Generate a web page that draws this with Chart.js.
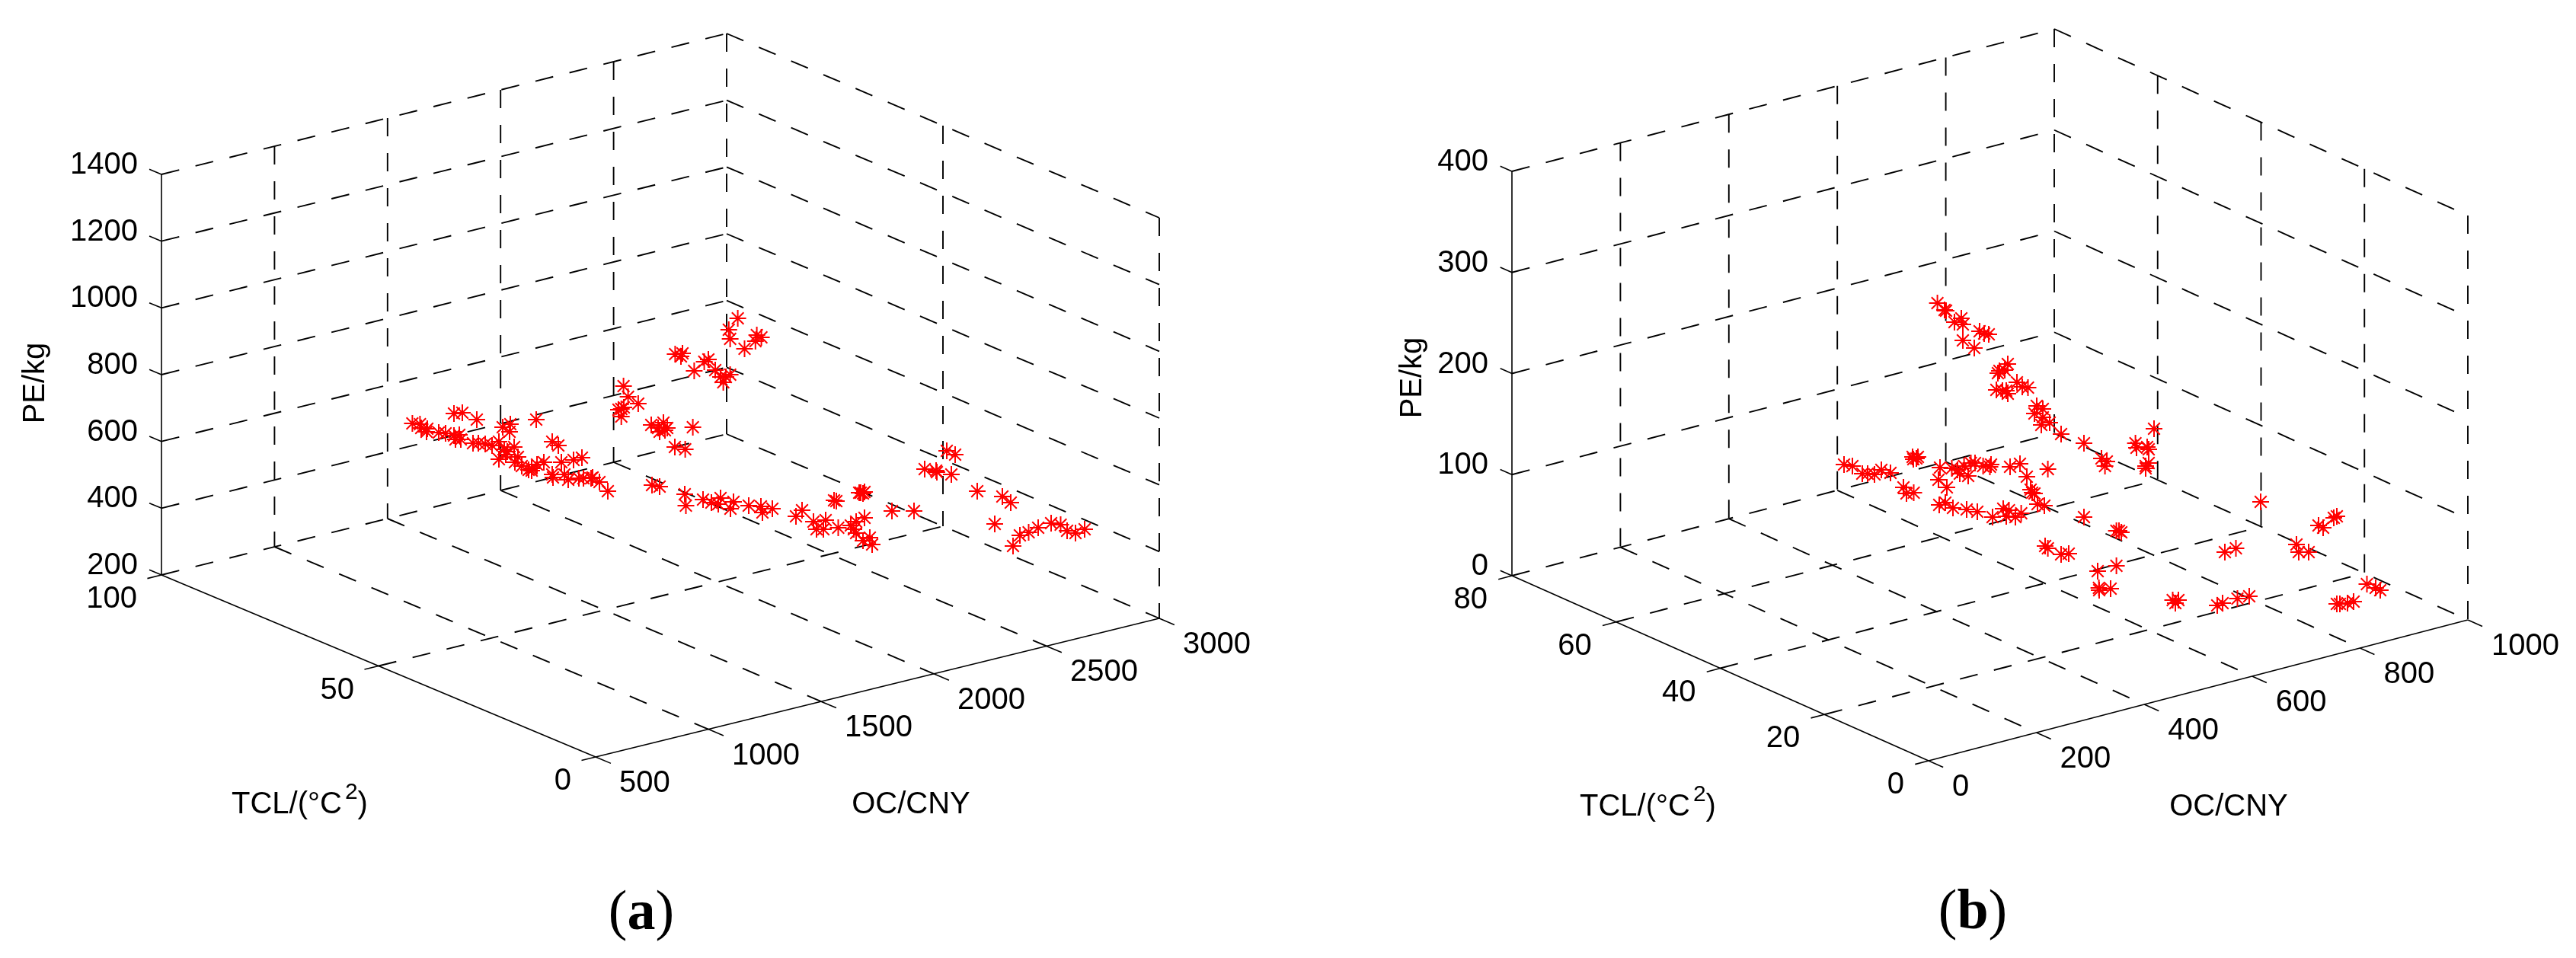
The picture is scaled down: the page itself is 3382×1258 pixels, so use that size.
<!DOCTYPE html>
<html>
<head>
<meta charset="utf-8">
<style>html,body{margin:0;padding:0;background:#fff}canvas{display:block}</style>
<script src="https://cdn.jsdelivr.net/npm/chart.js@4"></script>
</head>
<body>
<canvas id="c" width="3382" height="1258"></canvas>
<script>
// Tick values of the two 3-D panels
const aOcTicks = [500, 1000, 1500, 2000, 2500, 3000];
const aTclTicks = [0, 50, 100];
const aPeTicks = [200, 400, 600, 800, 1000, 1200, 1400];
const bOcTicks = [0, 200, 400, 600, 800, 1000];
const bTclTicks = [0, 20, 40, 60, 80];
const bPeTicks = [0, 100, 200, 300, 400];

// Scatter marks, in the projected view plane of the 3-D plot
const aViewX = [968.6,956.8,958.6,993.6,999.6,991.8,977.5,886.4,896,894,924.6,930,911.4,939,958.6,953,949.6,946,818.6,824.6,837.9,815.7,819,812,815.7,855,871,864,873,866,876,909.6,886,899.6,
541.4,551.4,553,561,560,576,585,596,603,598,605,596,607,626,704,660,670,669,621,628,637,646,655,662,666,655,664,675,680,676,685,694,698,705,714,698,725,733,737,753,764,725,726,741,746,760,766,776,778,787,798,
856,866,899,900.5,923,934,946,943,963,959,983,999,1001,1014,1053,1045,1095,1098,1130,1133,1128,1135,1068,1084,1072,1081,1100.5,1117,1124,1135,1121,1124,1142,1133,1145,1171,1200,1243,1254,1214,1229,1230,1249,1283,1316,1327,1306,1330,1339,1350.5,1363,1380,1392.5,1401,1412,1424];
const aViewY = [418,433,445,440,443,448,458,465,464,468,475,472,487,486,492,495,502,495,507,521,530,537,535,538,547,558,555,562,565,567,562,561,587,590,
556,557,562,563,567,568,569,572,571,577,577,543,542,551,551,561,557,567,582,582,583,585,580,590,593,603,597,587,600,607,612,617,615,610,607,618,580,585,607,604,601,623,627,623,630,628,628,628,627,633,645,
637,639,649,664,656,660,654,662,659,668,664,665,673,668,670,678,657,658,647,648,647,646,685,683,695,695,693,690,685,680,695,700,706,710,715,671,671,592,597,616,618,620,623,645,652,660,688,717,703,699,693,687,689,697,700,695];

const bViewX = [2543.6,2553,2555,2566,2575,2577,2599,2605,2611,2577,2592,2636,2625,2632,2623,2648,2655,2662.5,2621,2629,2636,2634,2674,2682,2671,2682,2691,2680,2706,2736,2759,2766,2763.6,2803.6,2805,
2421,2432,2445,2452,2461,2470,2482,2511,2516,2512,2518,2499,2503,2512.5,2547,2562.5,2570,2578.6,2587.5,2593,2573,2584,2603.6,2612.5,2614,2639,2652,2688.6,2661,2545,2556,2546,2554,2564,2582,2596,2616,2630,2637.5,2634,2646,2653.6,2668,2671,2666,2675,2684,2736,2782,2778.6,2685,2688.6,2706,2716,2754,2778.6,
2828,2819,2821,2821,2817,2817,2968,3068,3064,3044,3050,3015,3018,3031,2935.5,2921,2755.6,2756,2771,2852.5,2860,2856,2911,2918,2937.5,2953,3107.5,3125,3119,3072,3068,3090,3082,2785];
const bViewY = [398,407,408,423,418,426,435,438,439,447,457,478,487,486,490,502,508,509,512,513,517,513,533,537,543,548,555,558,570,582,602,606,612,582,588,
610,612,622,622,623,617,621,600,602,603,600,640,648,647,614,615,617,612,608,608,622,625,612,613,610,613,609,616,626,630,640,663,660,667,669,672,679,668,670,678,679,674,647,648,643,662,664,679,697,697,717,720,728,727,750,743,
563,587,590,608,612,615,659,678,680,690,693,715,725,725,720,725,772,775,773,788,788,792,795,792,786,783,767,775,772,793,793,790,792,699];

// Projection of each 3-D box onto the view plane
const viewA = {front:[782,994], ocVec:[740,-182], tclVec:[-570,-239], skew:[2,-3], height:526,
  oc:aOcTicks, tcl:aTclTicks, pe:aPeTicks};
const viewB = {front:[2532,999], ocVec:[708,-185], tclVec:[-547,-243], skew:[4,-2], height:531,
  oc:bOcTicks, tcl:bTclTicks, pe:bPeTicks};

const ends = t => [t[0], t[t.length-1]];
function projector(v){
  const [o0,o1]=ends(v.oc),[t0,t1]=ends(v.tcl),[p0,p1]=ends(v.pe);
  return (oc,tcl,pe)=>{
    const a=(oc-o0)/(o1-o0), b=(tcl-t0)/(t1-t0), c=(pe-p0)/(p1-p0);
    return {x:v.front[0]+a*v.ocVec[0]+b*v.tclVec[0]+a*b*v.skew[0],
            y:v.front[1]+a*v.ocVec[1]+b*v.tclVec[1]+a*b*v.skew[1]-c*v.height};
  };
}
const DASH=[24,22];
function segment(p,q,dashed){
  return {type:'scatter',showLine:true,data:[p,q],borderColor:'#000',backgroundColor:'#000',
    borderWidth:dashed?1.9:1.6,borderDash:dashed?DASH:[],pointRadius:0,order:5,tension:0};
}
function boxDatasets(v){
  const P=projector(v), out=[];
  const [o0,o1]=ends(v.oc),[t0,t1]=ends(v.tcl),[p0,p1]=ends(v.pe);
  // floor
  v.oc.slice(1).forEach(o=>out.push(segment(P(o,t1,p0),P(o,t0,p0),true)));
  v.tcl.slice(1).forEach(t=>out.push(segment(P(o0,t,p0),P(o1,t,p0),true)));
  // back-left wall (TCL = max)
  v.oc.slice(1).forEach(o=>out.push(segment(P(o,t1,p1),P(o,t1,p0),true)));
  v.pe.slice(1).forEach(p=>out.push(segment(P(o0,t1,p),P(o1,t1,p),true)));
  // back-right wall (OC = max)
  v.tcl.slice(0,-1).forEach(t=>out.push(segment(P(o1,t,p1),P(o1,t,p0),true)));
  v.pe.slice(1).forEach(p=>out.push(segment(P(o1,t1,p),P(o1,t0,p),true)));
  // solid axes
  out.push(segment(P(o0,t0,p0),P(o1,t0,p0),false));
  out.push(segment(P(o0,t0,p0),P(o0,t1,p0),false));
  out.push(segment(P(o0,t1,p0),P(o0,t1,p1),false));
  // tick marks, pointing out of the box
  const ot=(o1-o0)*0.025, tt=(t1-t0)*0.035, pt=(t1-t0)*0.028;
  v.oc.forEach(o=>out.push(segment(P(o,t0,p0),P(o,t0-tt,p0),false)));
  v.tcl.forEach(t=>out.push(segment(P(o0,t,p0),P(o0-ot,t,p0),false)));
  v.pe.forEach(p=>out.push(segment(P(o0,t1,p),P(o0,t1+pt,p),false)));
  return out;
}
const zip=(xs,ys)=>xs.map((x,i)=>({x,y:ys[i]}));
function marks(xs,ys,label){
  return {type:'scatter',label,data:zip(xs,ys),pointStyle:'star',pointRadius:11,
    pointBorderColor:'#ff0000',pointBackgroundColor:'#ff0000',pointBorderWidth:2,showLine:false,order:1};
}

const FONT='40px "Liberation Sans", Arial, sans-serif';
const SUP='30px "Liberation Sans", Arial, sans-serif';
const titles=[
  {v:viewA, pe:[47,503], tcl:[304,1068], oc:[1196,1068], cap:['a',842,1220]},
  {v:viewB, pe:[1855,496], tcl:[2074,1071], oc:[2926,1071], cap:['b',2590,1219]}
];
const labelPlugin={
  id:'labels3d',
  afterDraw(chart){
    const c=chart.ctx, sx=chart.scales.x, sy=chart.scales.y;
    const put=(txt,p,dx,dy,al)=>{c.textAlign=al;c.fillText(String(txt),sx.getPixelForValue(p.x)+dx,sy.getPixelForValue(p.y)+dy);};
    c.save();c.fillStyle='#000';
    titles.forEach(T=>{
      const v=T.v,P=projector(v),[o0,o1]=ends(v.oc),[t0,t1]=ends(v.tcl),[p0,p1]=ends(v.pe);
      c.textBaseline='middle';c.font=FONT;
      v.oc.forEach(o=>put(o,P(o,t0,p0),31,35,'left'));
      v.tcl.forEach(t=>put(t,P(o0,t,p0),-32,32,'right'));
      v.pe.forEach(p=>put(p,P(o0,t1,p),-31,-12,'right'));
      c.save();c.translate(T.pe[0],T.pe[1]);c.rotate(-Math.PI/2);c.textAlign='center';c.fillText('PE/kg',0,0);c.restore();
      c.textBaseline='alphabetic';
      c.textAlign='center';
      c.fillText('OC/CNY',T.oc[0],T.oc[1]);
      // TCL title with its raised exponent
      c.textAlign='left';
      const head='TCL/(°C';
      let x=T.tcl[0];
      c.fillText(head,x,T.tcl[1]);
      x+=c.measureText(head).width+4;
      c.font=SUP;c.fillText('2',x,T.tcl[1]-19);
      x+=c.measureText('2').width;
      c.font=FONT;c.fillText(')',x,T.tcl[1]);
      // panel caption
      const [ch,cx,cy]=T.cap;
      const reg='74px "Liberation Serif", serif', bold='bold 74px "Liberation Serif", serif';
      c.font=reg;
      const w1=c.measureText('(').width;
      c.font=bold;
      const w2=c.measureText(ch).width;
      const L=cx-(2*w1+w2)/2;
      c.font=reg;
      c.fillText('(',L,cy);c.fillText(')',L+w1+w2,cy);
      c.font=bold;
      c.fillText(ch,L+w1,cy);
    });
    c.restore();
  }
};
new Chart(document.getElementById('c'),{
  type:'scatter',
  data:{datasets:[marks(aViewX,aViewY,'a'),marks(bViewX,bViewY,'b'),...boxDatasets(viewA),...boxDatasets(viewB)]},
  options:{
    responsive:false,animation:false,devicePixelRatio:1,
    layout:{padding:0,autoPadding:false},
    plugins:{legend:{display:false},tooltip:{enabled:false},title:{display:false}},
    scales:{
      x:{type:'linear',min:0,max:3382,display:false},
      y:{type:'linear',min:0,max:1258,reverse:true,display:false}
    },
    elements:{line:{borderCapStyle:'butt'}}
  },
  plugins:[{id:'white',beforeDraw(ch){ch.ctx.save();ch.ctx.fillStyle='#fff';ch.ctx.fillRect(0,0,ch.width,ch.height);ch.ctx.restore();}},labelPlugin]
});
</script>
</body>
</html>
